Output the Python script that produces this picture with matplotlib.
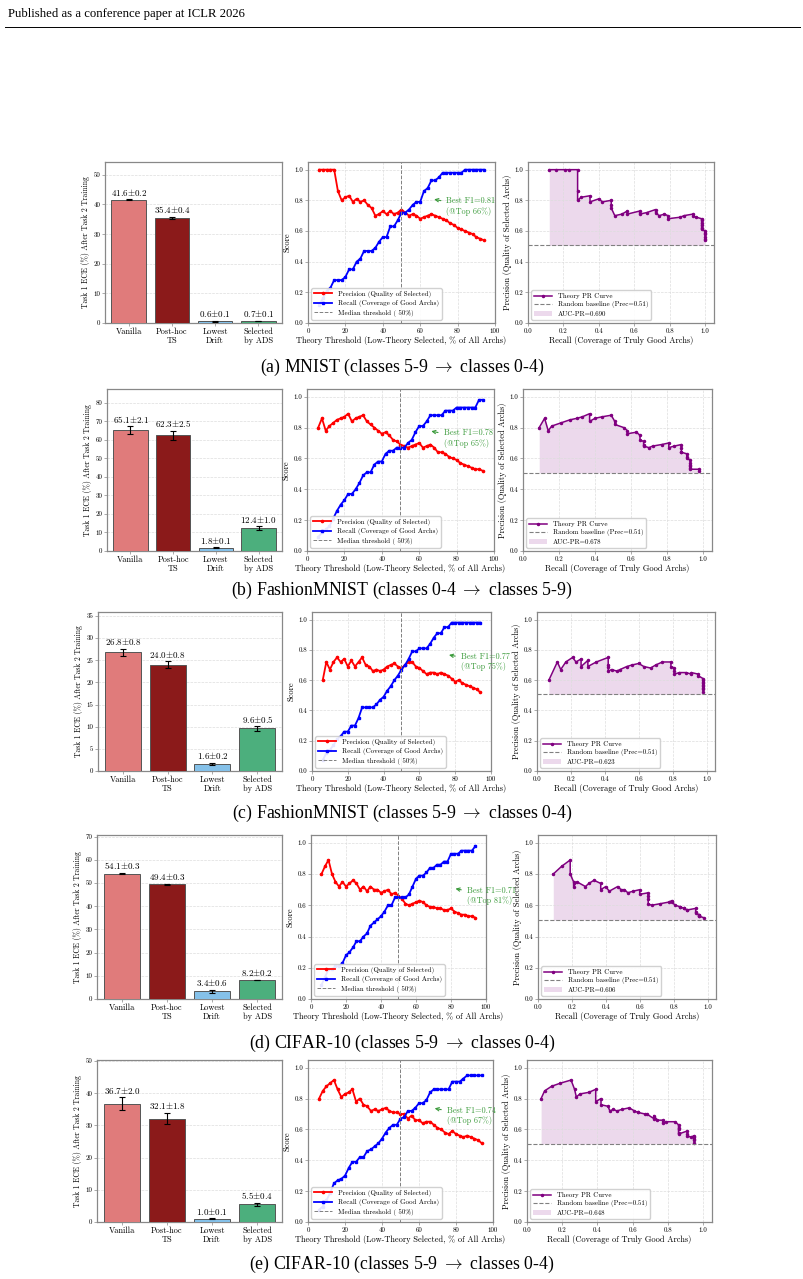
import matplotlib
matplotlib.use('Agg')
import matplotlib.pyplot as plt
from matplotlib.lines import Line2D
import numpy as np

W, H = 804, 1279
plt.rcParams['font.family'] = ['cmr10', 'DejaVu Serif']
plt.rcParams['axes.unicode_minus'] = False
plt.rcParams['mathtext.fontset'] = 'cm'

# ---- data ----
methods = ['Vanilla', 'Post-hoc\nTS', 'Lowest\nDrift', 'Selected\nby ADS']

ece_mnist = [41.6, 35.4, 0.6, 0.7]
err_mnist = [0.2, 0.4, 0.1, 0.1]
ece_fmnist_a = [65.1, 62.3, 1.8, 12.4]
err_fmnist_a = [2.1, 2.5, 0.1, 1.0]
ece_fmnist_b = [26.8, 24.0, 1.6, 9.6]
err_fmnist_b = [0.8, 0.8, 0.2, 0.5]
ece_cifar_a = [54.1, 49.4, 3.4, 8.2]
err_cifar_a = [0.3, 0.3, 0.6, 0.2]
ece_cifar_b = [36.7, 32.1, 1.0, 5.5]
err_cifar_b = [2.0, 1.8, 0.1, 0.4]

thresholds = [6, 8, 10, 12, 14, 16, 18, 20, 22, 24, 26, 28, 30, 32, 34, 36, 38, 40, 42, 44,
              46, 48, 50, 52, 54, 56, 58, 60, 62, 64, 66, 68, 70, 72, 74, 76, 78, 80, 82, 84,
              86, 88, 90, 92, 94]

prec_mnist = [1.0, 1.0, 1.0, 1.0, 1.0, 0.86, 0.80, 0.82, 0.83, 0.79, 0.81, 0.79, 0.80, 0.77, 0.75,
              0.70, 0.71, 0.73, 0.71, 0.73, 0.71, 0.72, 0.74, 0.72, 0.70, 0.71, 0.70, 0.68, 0.69, 0.70,
              0.71, 0.70, 0.69, 0.68, 0.67, 0.65, 0.64, 0.62, 0.61, 0.60, 0.59, 0.58, 0.56, 0.55, 0.54]
rec_mnist = [0.12, 0.16, 0.21, 0.23, 0.28, 0.28, 0.28, 0.30, 0.35, 0.35, 0.40, 0.42, 0.47, 0.47, 0.47,
             0.49, 0.53, 0.56, 0.56, 0.63, 0.63, 0.67, 0.72, 0.72, 0.74, 0.77, 0.79, 0.79, 0.86, 0.88,
             0.93, 0.93, 0.95, 0.98, 0.98, 0.98, 0.98, 0.98, 0.98, 1.0, 1.0, 1.0, 1.0, 1.0, 1.0]

prec_fmnist_a = [0.80, 0.86, 0.78, 0.81, 0.83, 0.85, 0.86, 0.87, 0.89, 0.84, 0.86, 0.87, 0.88, 0.84, 0.82,
                 0.80, 0.78, 0.76, 0.77, 0.75, 0.72, 0.71, 0.69, 0.68, 0.67, 0.68, 0.69, 0.70, 0.67, 0.68,
                 0.69, 0.67, 0.64, 0.64, 0.63, 0.61, 0.60, 0.59, 0.57, 0.56, 0.55, 0.54, 0.53, 0.53, 0.52]
rec_fmnist_a = [0.09, 0.12, 0.14, 0.16, 0.21, 0.26, 0.30, 0.33, 0.37, 0.37, 0.40, 0.44, 0.49, 0.51, 0.51,
                0.56, 0.58, 0.58, 0.63, 0.65, 0.65, 0.67, 0.67, 0.67, 0.70, 0.72, 0.77, 0.81, 0.81, 0.84,
                0.88, 0.88, 0.88, 0.88, 0.91, 0.91, 0.91, 0.93, 0.93, 0.93, 0.93, 0.93, 0.93, 0.98, 0.98]

prec_fmnist_b = [0.60, 0.72, 0.67, 0.72, 0.75, 0.72, 0.74, 0.69, 0.73, 0.69, 0.72, 0.75, 0.70, 0.69, 0.66,
                 0.67, 0.66, 0.67, 0.69, 0.70, 0.71, 0.69, 0.68, 0.70, 0.72, 0.72, 0.69, 0.68, 0.66, 0.64,
                 0.65, 0.65, 0.64, 0.65, 0.64, 0.63, 0.61, 0.59, 0.60, 0.58, 0.57, 0.56, 0.55, 0.54, 0.52]
rec_fmnist_b = [0.07, 0.12, 0.14, 0.17, 0.21, 0.23, 0.26, 0.26, 0.30, 0.30, 0.35, 0.42, 0.42, 0.42, 0.42,
                0.44, 0.47, 0.49, 0.53, 0.56, 0.60, 0.63, 0.67, 0.70, 0.74, 0.79, 0.79, 0.81, 0.81, 0.81,
                0.84, 0.88, 0.91, 0.91, 0.95, 0.95, 0.98, 0.98, 0.98, 0.98, 0.98, 0.98, 0.98, 0.98, 0.98]

prec_cifar_a = [0.80, 0.85, 0.89, 0.80, 0.75, 0.72, 0.75, 0.72, 0.74, 0.76, 0.74, 0.70, 0.72, 0.69, 0.72,
                0.70, 0.70, 0.68, 0.69, 0.70, 0.67, 0.68, 0.66, 0.64, 0.61, 0.60, 0.61, 0.62, 0.63, 0.62,
                0.60, 0.59, 0.59, 0.58, 0.58, 0.57, 0.57, 0.58, 0.56, 0.55, 0.54, 0.54, 0.53, 0.53, 0.52]
rec_cifar_a = [0.09, 0.14, 0.19, 0.19, 0.21, 0.21, 0.23, 0.28, 0.30, 0.33, 0.37, 0.37, 0.40, 0.42, 0.47,
               0.49, 0.51, 0.53, 0.56, 0.60, 0.60, 0.65, 0.65, 0.65, 0.65, 0.67, 0.72, 0.77, 0.79, 0.79,
               0.81, 0.84, 0.84, 0.86, 0.86, 0.88, 0.88, 0.93, 0.93, 0.93, 0.95, 0.95, 0.95, 0.95, 0.98]

prec_cifar_b = [0.80, 0.85, 0.88, 0.90, 0.92, 0.86, 0.81, 0.83, 0.84, 0.86, 0.78, 0.80, 0.76, 0.75, 0.72,
                0.73, 0.72, 0.73, 0.74, 0.72, 0.71, 0.71, 0.70, 0.70, 0.67, 0.69, 0.66, 0.66, 0.64, 0.65,
                0.65, 0.63, 0.61, 0.60, 0.58, 0.57, 0.59, 0.57, 0.56, 0.55, 0.56, 0.55, 0.54, 0.53, 0.51]
rec_cifar_b = [0.08, 0.10, 0.14, 0.19, 0.25, 0.27, 0.28, 0.30, 0.35, 0.39, 0.39, 0.42, 0.42, 0.46, 0.47,
               0.49, 0.51, 0.54, 0.58, 0.61, 0.63, 0.63, 0.67, 0.68, 0.72, 0.72, 0.74, 0.77, 0.77, 0.79,
               0.84, 0.86, 0.86, 0.86, 0.86, 0.86, 0.91, 0.91, 0.91, 0.93, 0.95, 0.95, 0.95, 0.95, 0.95]

best_f1 = [0.81, 0.78, 0.77, 0.71, 0.74]
best_top = [66, 65, 75, 81, 67]
auc_pr = [0.690, 0.678, 0.623, 0.606, 0.648]
base_rate = 0.506

captions = ['(a) MNIST (classes 5-9 $\\rightarrow$ classes 0-4)',
            '(b) FashionMNIST (classes 0-4 $\\rightarrow$ classes 5-9)',
            '(c) FashionMNIST (classes 5-9 $\\rightarrow$ classes 0-4)',
            '(d) CIFAR-10 (classes 5-9 $\\rightarrow$ classes 0-4)',
            '(e) CIFAR-10 (classes 5-9 $\\rightarrow$ classes 0-4)']

eces = [ece_mnist, ece_fmnist_a, ece_fmnist_b, ece_cifar_a, ece_cifar_b]
errs = [err_mnist, err_fmnist_a, err_fmnist_b, err_cifar_a, err_cifar_b]
precs = [prec_mnist, prec_fmnist_a, prec_fmnist_b, prec_cifar_a, prec_cifar_b]
recs = [rec_mnist, rec_fmnist_a, rec_fmnist_b, rec_cifar_a, rec_cifar_b]

# ---- layout (pixels) ----
row_top = [162, 389, 612, 835, 1060]
row_bot = [323, 551, 771, 999, 1222]
bar_x = [(105, 282), (107, 282), (98, 282), (97, 282), (97, 282)]
mid_x = [(308, 495), (307, 494), (312, 491), (311, 486), (308, 493)]
pr_x = [(528, 714), (523, 712), (537, 715), (538, 716), (527, 712)]
cap_y = [367, 590, 813, 1043, 1264]

bar_colors = ['#e07b7b', '#8b1a1a', '#85c1e9', '#4caf7d']
SPINE = '#888888'
GREEN = '#3a9a3a'


def px_axes(fig, x0, x1, top, bot):
    return fig.add_axes([x0 / W, 1 - bot / H, (x1 - x0) / W, (bot - top) / H])


def style(ax):
    for s in ax.spines.values():
        s.set_color(SPINE)
        s.set_linewidth(0.9)
    ax.tick_params(labelsize=5, length=2, width=0.5, pad=1.5, color=SPINE)


fig = plt.figure(figsize=(W / 100, H / 100), dpi=100)

fig.text(8 / W, 1 - 14 / H, 'Published as a conference paper at ICLR 2026',
         family='Liberation Serif', fontsize=9.2, va='center', ha='left')
fig.add_artist(Line2D([5 / W, 800 / W], [1 - 27 / H] * 2, color='black', lw=0.7))

for i in range(5):
    # ---- bar panel ----
    ax = px_axes(fig, *bar_x[i], row_top[i], row_bot[i])
    style(ax)
    xs = np.arange(len(methods))
    ax.bar(xs, eces[i], width=0.8, color=bar_colors, edgecolor='#555555', linewidth=0.7,
           yerr=errs[i], capsize=2.5, error_kw=dict(ecolor='black', elinewidth=0.8, capthick=0.8),
           zorder=3)
    top = max(e + s for e, s in zip(eces[i], errs[i])) * 1.3
    ax.set_ylim(0, top)
    ax.set_xlim(-0.55, 3.55)
    for x, e, s in zip(xs, eces[i], errs[i]):
        ax.text(x, e + s + top * 0.01, f'{e:.1f}$\\pm${s:.1f}', ha='center', va='bottom',
                fontsize=6.5)
    ax.set_xticks(xs)
    ax.set_xticklabels(methods, fontsize=6, linespacing=1.0)
    ax.set_ylabel('Task 1 ECE (%) After Task 2 Training', fontsize=5.5, labelpad=2)
    ax.yaxis.grid(True, linestyle='--', color='#dddddd', linewidth=0.5, zorder=0)
    ax.set_axisbelow(True)

    # ---- threshold panel ----
    ax = px_axes(fig, *mid_x[i], row_top[i], row_bot[i])
    style(ax)
    ax.plot(thresholds, precs[i], color='red', lw=1.3, marker='o', markersize=1.6,
            label='Precision (Quality of Selected)')
    ax.plot(thresholds, recs[i], color='blue', lw=1.3, marker='s', markersize=1.8,
            label='Recall (Coverage of Good Archs)')
    ax.axvline(50, color='gray', linestyle='--', lw=0.7, label='Median threshold ( 50%)')
    ax.annotate(f'Best F1={best_f1[i]:.2f}\n(@Top {best_top[i]}%)',
                xy=(best_top[i], best_f1[i]),
                xytext=(best_top[i] + 8, best_f1[i] - 0.05),
                fontsize=5.9, color=GREEN, ha='left', va='center', annotation_clip=False,
                arrowprops=dict(arrowstyle='->', color=GREEN, lw=0.8))
    ax.set_xlim(0, 100)
    ax.set_ylim(0, 1.05)
    ax.set_xticks([0, 20, 40, 60, 80, 100])
    ax.set_yticks([0.0, 0.2, 0.4, 0.6, 0.8, 1.0])
    ax.grid(True, linestyle='--', color='#dddddd', linewidth=0.5)
    ax.set_xlabel('Theory Threshold (Low-Theory Selected, % of All Archs)', fontsize=6, labelpad=2)
    ax.set_ylabel('Score', fontsize=6, labelpad=2)
    ax.legend(loc='lower left', fontsize=5, framealpha=0.9, handlelength=2.6,
              borderpad=0.4, labelspacing=0.35, edgecolor='#cccccc')

    # ---- PR panel ----
    ax = px_axes(fig, *pr_x[i], row_top[i], row_bot[i])
    style(ax)
    ax.plot(recs[i], precs[i], color='purple', lw=1.1, marker='o', markersize=1.5,
            label='Theory PR Curve')
    ax.axhline(base_rate, color='gray', linestyle='--', lw=0.8,
               label=f'Random baseline (Prec={base_rate:.2f})')
    ax.fill_between(recs[i], precs[i], base_rate, color='purple', alpha=0.15, lw=0,
                    label=f'AUC-PR={auc_pr[i]:.3f}')
    ax.set_xlim(0, 1.05)
    ax.set_ylim(0, 1.05)
    ax.set_xticks([0.0, 0.2, 0.4, 0.6, 0.8, 1.0])
    ax.set_yticks([0.0, 0.2, 0.4, 0.6, 0.8, 1.0])
    ax.grid(True, linestyle='--', color='#dddddd', linewidth=0.5)
    ax.set_xlabel('Recall (Coverage of Truly Good Archs)', fontsize=6, labelpad=2)
    ax.set_ylabel('Precision (Quality of Selected Archs)', fontsize=6, labelpad=2)
    ax.legend(loc='lower left', fontsize=5, framealpha=0.9, handlelength=2.6,
              borderpad=0.4, labelspacing=0.35, edgecolor='#cccccc')

    fig.text(0.5, 1 - cap_y[i] / H, captions[i], family=['Liberation Serif', 'DejaVu Serif'],
             fontsize=12.8, ha='center', va='center')

fig.savefig('out.png', dpi=100)
